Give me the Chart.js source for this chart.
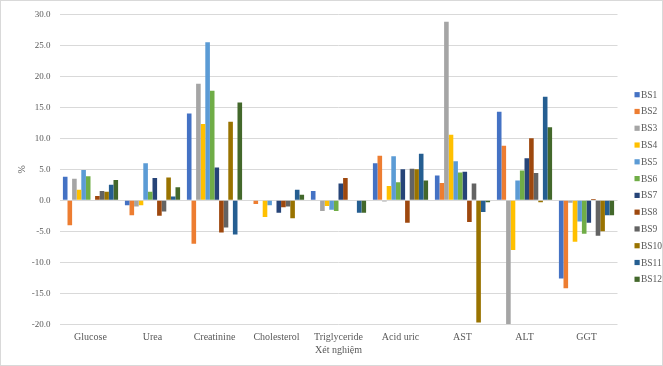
<!DOCTYPE html>
<html>
<head>
<meta charset="utf-8">
<script src="https://cdn.jsdelivr.net/npm/chart.js@4/dist/chart.umd.min.js"></script>
<style>
  html, body { margin: 0; padding: 0; background: #fff; }
  #wrap { width: 663px; height: 366px; position: relative; }
</style>
</head>
<body>
<div id="wrap"><canvas id="c" width="663" height="366"></canvas></div>
<script>
// Test categories
const categories = ['Glucose', 'Urea', 'Creatinine', 'Cholesterol', 'Triglyceride', 'Acid uric', 'AST', 'ALT', 'GGT'];

// Percentage change per sample (BS1..BS12)
const BS1  = [3.8, -0.8, 14.0, 0.0, 1.5, 6.0, 4.0, 14.3, -12.6];
const BS2  = [-4.0, -2.4, -7.0, -0.6, 0.0, 7.2, 2.8, 8.8, -14.2];
const BS3  = [3.5, -1.0, 18.8, 0.0, -1.7, -0.2, 28.8, -20.0, -0.4];
const BS4  = [1.7, -0.8, 12.3, -2.7, -0.9, 2.3, 10.6, -8.0, -6.7];
const BS5  = [4.9, 6.0, 25.5, -0.8, -1.5, 7.1, 6.3, 3.2, -3.4];
const BS6  = [3.9, 1.4, 17.7, 0.0, -1.7, 2.9, 4.5, 4.8, -5.4];
const BS7  = [0.0, 3.6, 5.3, -2.0, 2.7, 5.0, 4.6, 6.8, -3.6];
const BS8  = [0.7, -2.5, -5.2, -1.1, 3.6, -3.6, -3.5, 10.0, 0.2];
const BS9  = [1.5, -1.8, -4.4, -1.0, 0.0, 5.1, 2.7, 4.4, -5.7];
const BS10 = [1.4, 3.7, 12.7, -2.9, 0.0, 5.0, -19.7, -0.3, -5.0];
const BS11 = [2.5, 0.6, -5.5, 1.7, -2.0, 7.5, -1.9, 16.7, -2.4];
const BS12 = [3.3, 2.1, 15.8, 0.9, -2.0, 3.2, -0.3, 11.8, -2.4];

const seriesNames = ['BS1', 'BS2', 'BS3', 'BS4', 'BS5', 'BS6', 'BS7', 'BS8', 'BS9', 'BS10', 'BS11', 'BS12'];
const seriesValues = [BS1, BS2, BS3, BS4, BS5, BS6, BS7, BS8, BS9, BS10, BS11, BS12];
const seriesColors = ['#4472C4', '#ED7D31', '#A5A5A5', '#FFC000', '#5B9BD5', '#70AD47',
                      '#264478', '#9E480E', '#636363', '#997300', '#255E91', '#43682B'];

// Y axis range and step
const yMin = -20, yMax = 30, yStep = 5;

const FONT = "'Liberation Serif', 'Times New Roman', serif";
const TEXT = '#595959';

// Vertical legend drawn at the right edge, one row per dataset
const sideLegend = {
  id: 'sideLegend',
  afterDraw(chart) {
    const ctx = chart.ctx;
    ctx.save();
    ctx.font = '9.5px ' + FONT;
    ctx.textBaseline = 'middle';
    ctx.textAlign = 'left';
    const x0 = 634.5, y0 = 94.7, step = 16.78, box = 5.2;
    chart.data.datasets.forEach((ds, i) => {
      const y = y0 + i * step;
      ctx.fillStyle = ds.backgroundColor;
      ctx.fillRect(x0, y - box / 2, box, box);
      ctx.fillStyle = TEXT;
      ctx.fillText(ds.label, x0 + 6.5, y + 0.5);
    });
    // thin chart frame
    ctx.strokeStyle = '#d9d9d9';
    ctx.lineWidth = 1;
    ctx.strokeRect(0.5, 0.5, chart.width - 1, chart.height - 1);
    ctx.restore();
  }
};

new Chart(document.getElementById('c'), {
  type: 'bar',
  data: {
    labels: categories,
    datasets: seriesNames.map((name, i) => ({
      label: name,
      data: seriesValues[i],
      backgroundColor: seriesColors[i],
      borderWidth: 0,
      barPercentage: 1.0,
      categoryPercentage: 0.89
    }))
  },
  options: {
    responsive: false,
    animation: false,
    devicePixelRatio: 1,
    layout: { padding: { left: 0, right: 45.5, top: 14, bottom: 0 } },
    plugins: {
      legend: { display: false },
      tooltip: { enabled: false }
    },
    scales: {
      x: {
        grid: { display: false, drawTicks: false },
        border: { display: false },
        ticks: { color: TEXT, font: { family: FONT, size: 10 }, padding: 7, maxRotation: 0, autoSkip: false },
        title: { display: true, text: 'Xét nghiệm', color: TEXT, font: { family: FONT, size: 10 }, padding: { top: 10, bottom: 10 } },
        afterFit(scale) { scale.height = 41.7; }
      },
      y: {
        min: yMin,
        max: yMax,
        grid: { color: '#d9d9d9', lineWidth: 1, drawTicks: false },
        border: { display: false },
        ticks: {
          stepSize: yStep,
          color: TEXT,
          font: { family: FONT, size: 9 },
          padding: 9,
          callback: v => Number(v).toFixed(1)
        },
        title: { display: true, text: '%', color: TEXT, font: { family: FONT, size: 10 }, padding: { top: 16, bottom: 16 } },
        afterFit(scale) { scale.width = 59.5; }
      }
    }
  },
  plugins: [sideLegend]
});
</script>
</body>
</html>
